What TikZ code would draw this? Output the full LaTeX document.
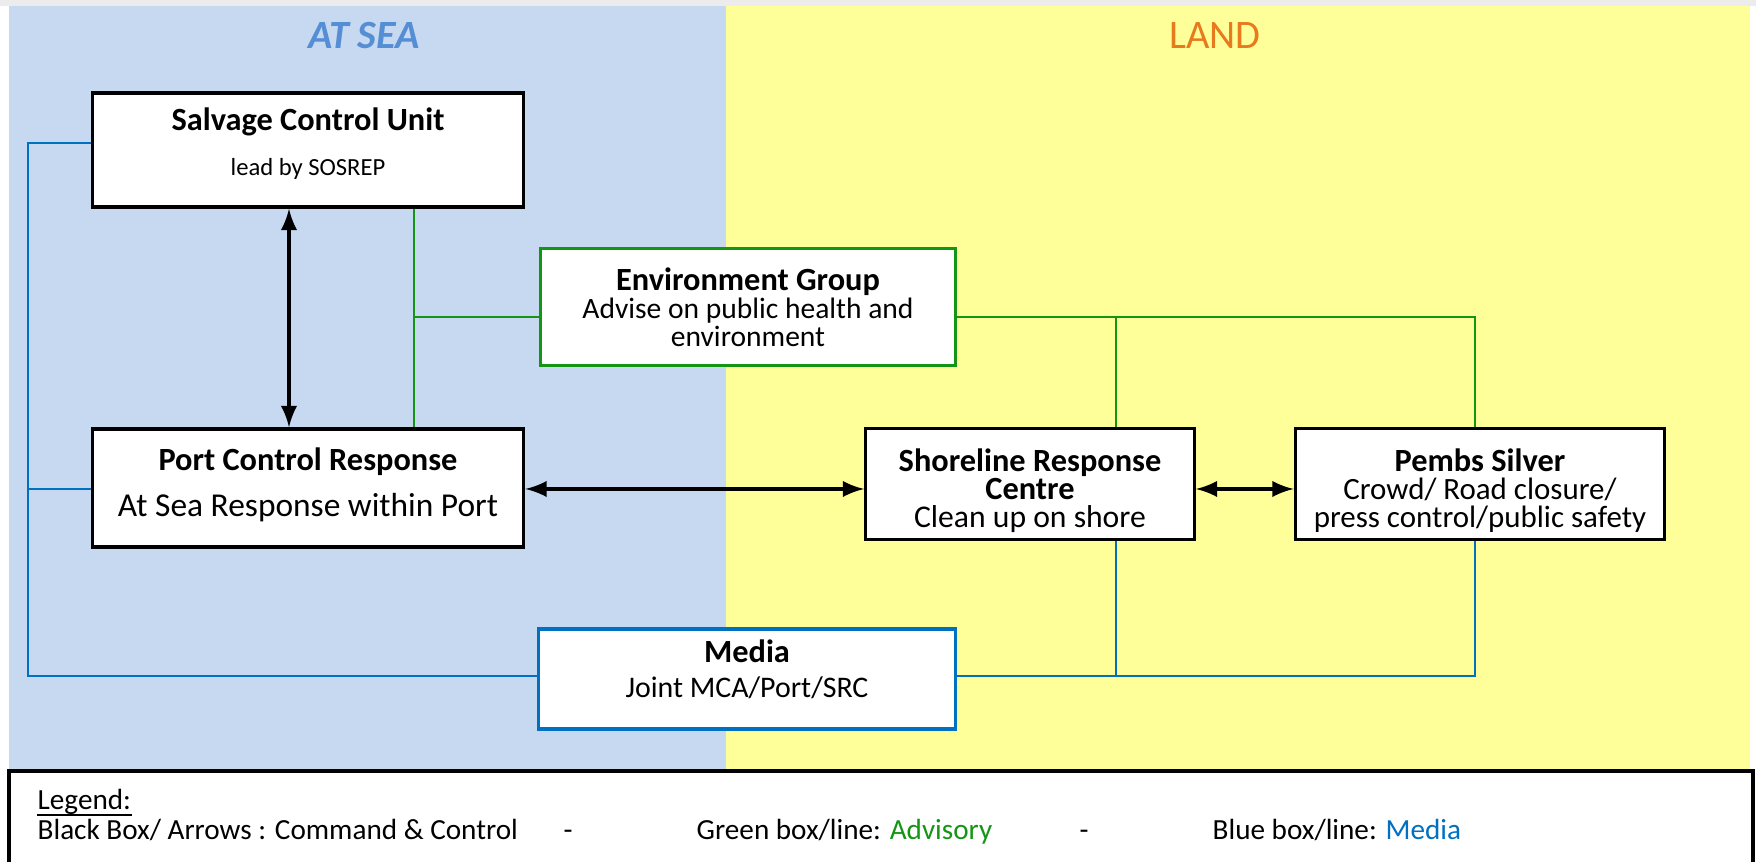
\documentclass[tikz,border=0pt]{standalone}
\usepackage{fontspec}
\setmainfont{Carlito}
\usetikzlibrary{arrows}

\definecolor{seablue}{RGB}{198,217,240}
\definecolor{landyellow}{RGB}{255,255,153}
\definecolor{seatitle}{RGB}{85,142,213}
\definecolor{landtitle}{RGB}{232,122,30}
\definecolor{advgreen}{RGB}{20,150,20}
\definecolor{mediablue}{RGB}{0,112,192}

\tikzset{
  unit/.style={draw=black, line width=0.9pt, fill=white, align=center, inner sep=0pt},
  advbox/.style={unit, draw=advgreen},
  mediabox/.style={unit, draw=mediablue},
  cmd/.style={latex-latex, line width=1.1pt},
  advline/.style={draw=advgreen, line width=0.7pt},
  medline/.style={draw=mediablue, line width=0.7pt},
  legtext/.style={font=\fontsize{8.3}{10}\selectfont, inner sep=0pt},
}

\newcommand{\boxtitle}[1]{{\fontsize{9.2}{8}\selectfont\bfseries #1}}
\newcommand{\boxsub}[2]{{\fontsize{#1}{8}\selectfont #2}}

\begin{document}
\begin{tikzpicture}[x=0.01cm, y=-0.01cm]
% page
\fill[white] (0,0) rectangle (1756,862);
\fill[gray!15] (0,0) rectangle (1756,6);
\useasboundingbox (0,0) rectangle (1756,862);

% at sea / land
\fill[seablue] (9,6) rectangle (726,771);
\fill[landyellow] (726,6) rectangle (1750,771);
\node[text=seatitle, font=\fontsize{11.4}{13}\selectfont\itshape\bfseries] (sea) at (364,36) {AT SEA};
\node[text=landtitle, font=\fontsize{11.5}{13}\selectfont] (land) at (1215,36) {LAND};

% boxes
\node[unit, font=\fontsize{9}{12}\selectfont, minimum width=4.31cm, minimum height=1.14cm] (scu) at (308,150)
  {\boxtitle{Salvage Control Unit}\\[0.8pt]\boxsub{7}{lead by SOSREP}\\[-7.2pt]};
\node[advbox, font=\fontsize{9}{8}\selectfont, minimum width=4.14cm, minimum height=1.17cm] (env) at (748,307)
  {\boxtitle{Environment Group}\\\boxsub{8.4}{Advise on public health and}\\\boxsub{8.4}{environment}};
\node[unit, font=\fontsize{9}{12}\selectfont, minimum width=4.31cm, minimum height=1.18cm] (pcr) at (308,488)
  {\boxtitle{Port Control Response}\\[1pt]\boxsub{9.5}{At Sea Response within Port}\\[-8.5pt]};
\node[unit, font=\fontsize{9}{8}\selectfont, minimum width=3.28cm, minimum height=1.11cm] (src) at (1030,484)
  {\rule{0pt}{10.4pt}\boxtitle{Shoreline Response}\\\boxtitle{Centre}\\\boxsub{9}{Clean up on shore}};
\node[unit, font=\fontsize{9}{8}\selectfont, minimum width=3.69cm, minimum height=1.11cm] (pembs) at (1480,484)
  {\rule{0pt}{10.4pt}\boxtitle{Pembs Silver}\\\boxsub{8.8}{Crowd/ Road closure/}\\\boxsub{8.8}{press control/public safety}};
\node[mediabox, font=\fontsize{9}{10}\selectfont, minimum width=4.16cm, minimum height=1.00cm] (media) at (747,679)
  {\boxtitle{Media}\\\boxsub{8.5}{Joint MCA/Port/SRC}\\[-4pt]};

% command & control
\draw[cmd] (scu.south -| 289,0) -- (pcr.north -| 289,0);
\draw[cmd] (pcr.east |- 0,489) -- (src.west |- 0,489);
\draw[cmd] (src.east |- 0,489) -- (pembs.west |- 0,489);

% advisory
\draw[advline] (scu.south -| 414,0) -- (pcr.north -| 414,0);
\draw[advline] (414,317) -- (env.west |- 0,317);
\draw[advline] (env.east |- 0,317) -| (pembs.north -| 1475,0);
\draw[advline] (1116,317) -- (src.north -| 1116,0);

% media
\draw[medline] (scu.west |- 0,143) -| (28,676) -- (media.west |- 0,676);
\draw[medline] (pcr.west |- 0,489) -- (28,489);
\draw[medline] (media.east |- 0,676) -| (pembs.south -| 1475,0);
\draw[medline] (1116,676) -- (src.south -| 1116,0);

% legend
\draw[line width=1pt, fill=white] (9,771) rectangle (1753,870);
\node[anchor=base west, legtext] (leg) at (37,810) {Legend:};
\draw[line width=0.5pt] ([yshift=-1.5pt]leg.base west) -- ([yshift=-1.5pt]leg.base east);
\node[anchor=base west, legtext] (legcmd) at (37,840) {Black Box/ Arrows : Command \& Control};
\node[anchor=base, legtext] (dasha) at (568,840) {-};
\node[anchor=base west, legtext] (legadv) at (696,840) {Green box/line: \textcolor{advgreen}{Advisory}};
\node[anchor=base, legtext] (dashb) at (1084,840) {-};
\node[anchor=base west, legtext] (legmed) at (1212,840) {Blue box/line: \textcolor{mediablue}{Media}};
\end{tikzpicture}
\end{document}
